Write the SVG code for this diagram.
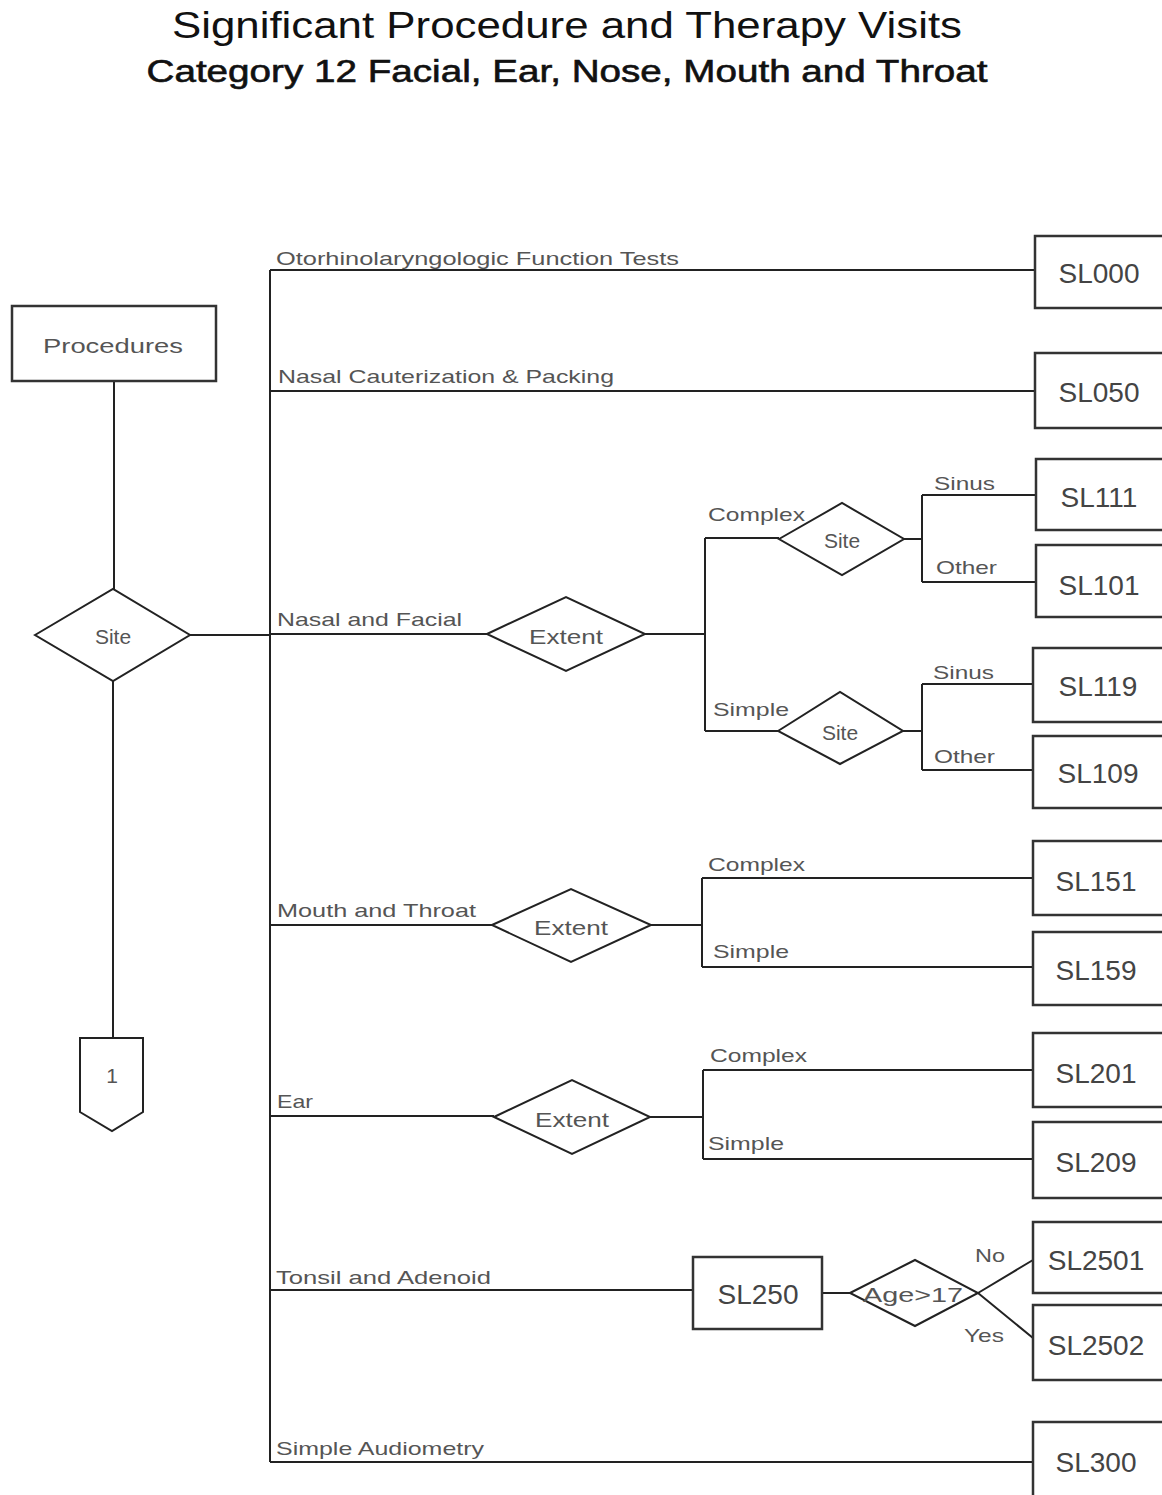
<svg xmlns="http://www.w3.org/2000/svg" width="1162" height="1495" viewBox="0 0 1162 1495">
<style>
.ln{stroke:#222;stroke-width:2;fill:none}
.bx{stroke:#333;stroke-width:2.5;fill:#fff}
.dm{stroke:#222;stroke-width:2;fill:#fff}
.lbl{font-family:"Liberation Sans",Arial,sans-serif;font-size:19px;fill:#555}
.bt{font-family:"Liberation Sans",Arial,sans-serif;font-size:28px;fill:#444;text-anchor:middle}
.dt{font-family:"Liberation Sans",Arial,sans-serif;font-size:21px;fill:#555;text-anchor:middle}
.ttl{font-family:"Liberation Sans",Arial,sans-serif;fill:#111;text-anchor:middle}
</style>
<rect width="1162" height="1495" fill="#fff"/>
<text class="ttl" x="567" y="38" font-size="37" textLength="790" lengthAdjust="spacingAndGlyphs">Significant Procedure and Therapy Visits</text>
<text class="ttl" x="567" y="82" font-size="31" stroke="#111" stroke-width="0.6" textLength="841" lengthAdjust="spacingAndGlyphs">Category 12 Facial, Ear, Nose, Mouth and Throat</text>

<g id="connectors">
<path class="ln" d="M114 381V589M113 681V1038M190 635H270M270 270V1462"/>
<path class="ln" d="M270 270H1035M270 391H1035M270 634H487M270 925H492M270 1116H494M270 1290H693M270 1462H1033"/>
<path class="ln" d="M645 634H705M705 538V731M705 538H779M705 731H778M904 539H922M922 495V582M922 495H1036M922 582H1036M903 731H922M922 684V770M922 684H1033M922 770H1033"/>
<path class="ln" d="M651 925H702M702 878V967M702 878H1033M702 967H1033"/>
<path class="ln" d="M650 1117H703M703 1070V1159M703 1070H1033M703 1159H1033"/>
<path class="ln" d="M822 1293H850M978 1293L1033 1260M978 1293L1033 1338"/>
</g>

<g id="labels">
<text class="lbl" x="276" y="265" textLength="403" lengthAdjust="spacingAndGlyphs">Otorhinolaryngologic Function Tests</text>
<text class="lbl" x="278" y="383" textLength="336" lengthAdjust="spacingAndGlyphs">Nasal Cauterization &amp; Packing</text>
<text class="lbl" x="277" y="626" textLength="185" lengthAdjust="spacingAndGlyphs">Nasal and Facial</text>
<text class="lbl" x="708" y="521" textLength="97" lengthAdjust="spacingAndGlyphs">Complex</text>
<text class="lbl" x="713" y="716" textLength="76" lengthAdjust="spacingAndGlyphs">Simple</text>
<text class="lbl" x="934" y="490" textLength="61" lengthAdjust="spacingAndGlyphs">Sinus</text>
<text class="lbl" x="936" y="574" textLength="61" lengthAdjust="spacingAndGlyphs">Other</text>
<text class="lbl" x="933" y="679" textLength="61" lengthAdjust="spacingAndGlyphs">Sinus</text>
<text class="lbl" x="934" y="763" textLength="61" lengthAdjust="spacingAndGlyphs">Other</text>
<text class="lbl" x="277" y="917" textLength="199" lengthAdjust="spacingAndGlyphs">Mouth and Throat</text>
<text class="lbl" x="708" y="871" textLength="97" lengthAdjust="spacingAndGlyphs">Complex</text>
<text class="lbl" x="713" y="958" textLength="76" lengthAdjust="spacingAndGlyphs">Simple</text>
<text class="lbl" x="277" y="1108" textLength="36" lengthAdjust="spacingAndGlyphs">Ear</text>
<text class="lbl" x="710" y="1062" textLength="97" lengthAdjust="spacingAndGlyphs">Complex</text>
<text class="lbl" x="708" y="1150" textLength="76" lengthAdjust="spacingAndGlyphs">Simple</text>
<text class="lbl" x="276" y="1284" textLength="215" lengthAdjust="spacingAndGlyphs">Tonsil and Adenoid</text>
<text class="lbl" x="975" y="1262" textLength="30" lengthAdjust="spacingAndGlyphs">No</text>
<text class="lbl" x="964" y="1342" textLength="40" lengthAdjust="spacingAndGlyphs">Yes</text>
<text class="lbl" x="276" y="1455" textLength="208" lengthAdjust="spacingAndGlyphs">Simple Audiometry</text>
</g>

<g id="procedures"><rect class="bx" x="12" y="306" width="204" height="75"/><text class="dt" x="113" y="353" font-size="21" textLength="140" lengthAdjust="spacingAndGlyphs">Procedures</text></g>
<g id="site"><polygon class="dm" points="35,635 113,589 190,635 113,681"/><text class="dt" x="113" y="644" font-size="22">Site</text></g>
<g id="offpage1"><polygon class="ln" fill="#fff" points="80,1038 143,1038 143,1112 112,1131 80,1112"/><text class="dt" x="112" y="1083" font-size="14">1</text></g>

<g id="sl000"><rect class="bx" x="1035" y="236" width="130" height="72"/><text class="bt" x="1099" y="283">SL000</text></g>
<g id="sl050"><rect class="bx" x="1035" y="353" width="130" height="75"/><text class="bt" x="1099" y="402">SL050</text></g>

<g id="extent1"><polygon class="dm" points="487,634 566,597 645,634 566,671"/><text class="dt" x="566" y="644" font-size="22" textLength="74" lengthAdjust="spacingAndGlyphs">Extent</text></g>
<g id="site2"><polygon class="dm" points="779,539 842,503 904,539 842,575"/><text class="dt" x="842" y="548" font-size="22">Site</text></g>
<g id="site3"><polygon class="dm" points="778,731 840,692 903,731 840,764"/><text class="dt" x="840" y="740" font-size="22">Site</text></g>
<g id="sl111"><rect class="bx" x="1036" y="459" width="130" height="71"/><text class="bt" x="1099" y="507">SL111</text></g>
<g id="sl101"><rect class="bx" x="1036" y="545" width="130" height="72"/><text class="bt" x="1099" y="595">SL101</text></g>
<g id="sl119"><rect class="bx" x="1033" y="648" width="132" height="74"/><text class="bt" x="1098" y="696">SL119</text></g>
<g id="sl109"><rect class="bx" x="1033" y="736" width="132" height="72"/><text class="bt" x="1098" y="783">SL109</text></g>

<g id="extent2"><polygon class="dm" points="492,925 571,889 651,925 571,962"/><text class="dt" x="571" y="935" font-size="22" textLength="74" lengthAdjust="spacingAndGlyphs">Extent</text></g>
<g id="sl151"><rect class="bx" x="1033" y="841" width="132" height="74"/><text class="bt" x="1096" y="891">SL151</text></g>
<g id="sl159"><rect class="bx" x="1033" y="932" width="132" height="73"/><text class="bt" x="1096" y="980">SL159</text></g>

<g id="extent3"><polygon class="dm" points="494,1117 572,1080 650,1117 572,1154"/><text class="dt" x="572" y="1127" font-size="22" textLength="74" lengthAdjust="spacingAndGlyphs">Extent</text></g>
<g id="sl201"><rect class="bx" x="1033" y="1033" width="132" height="74"/><text class="bt" x="1096" y="1083">SL201</text></g>
<g id="sl209"><rect class="bx" x="1033" y="1122" width="132" height="76"/><text class="bt" x="1096" y="1172">SL209</text></g>

<g id="sl250"><rect class="bx" x="693" y="1257" width="129" height="72"/><text class="bt" x="758" y="1304">SL250</text></g>
<g id="age"><polygon class="dm" points="850,1293 915,1260 978,1293 915,1326"/><text class="dt" x="913" y="1302" font-size="22" textLength="100" lengthAdjust="spacingAndGlyphs">Age&gt;17</text></g>
<g id="sl2501"><rect class="bx" x="1033" y="1222" width="132" height="71"/><text class="bt" x="1096" y="1270">SL2501</text></g>
<g id="sl2502"><rect class="bx" x="1033" y="1305" width="132" height="75"/><text class="bt" x="1096" y="1355">SL2502</text></g>

<g id="sl300"><rect class="bx" x="1033" y="1422" width="132" height="76"/><text class="bt" x="1096" y="1472">SL300</text></g>
</svg>
